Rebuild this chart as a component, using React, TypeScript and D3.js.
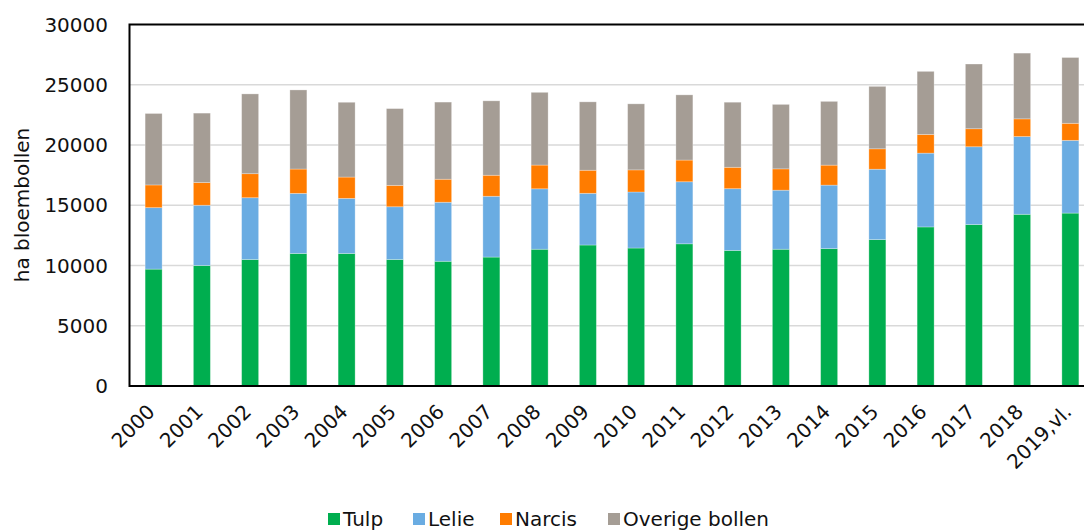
import React, { useEffect, useRef } from 'react';
import * as d3 from 'd3';

const years = ['2000', '2001', '2002', '2003', '2004', '2005', '2006', '2007', '2008', '2009',
  '2010', '2011', '2012', '2013', '2014', '2015', '2016', '2017', '2018', '2019,vl.'];

const tulp = [9700, 10000, 10500, 11000, 11000, 10500, 10350, 10700, 11350, 11700,
  11450, 11800, 11250, 11350, 11400, 12150, 13200, 13400, 14250, 14350];
const lelie = [5100, 5000, 5125, 4985, 4570, 4375, 4900, 5045, 5015, 4290,
  4650, 5150, 5125, 4900, 5270, 5840, 6125, 6455, 6450, 6035];
const narcis = [1885, 1885, 1995, 2020, 1770, 1775, 1910, 1745, 1970, 1915,
  1835, 1800, 1775, 1770, 1660, 1695, 1550, 1495, 1470, 1415];
const overige = [5930, 5760, 6620, 6565, 6205, 6370, 6400, 6175, 6035, 5675,
  5480, 5410, 5400, 5350, 5290, 5180, 5235, 5370, 5455, 5460];

const seriesNames = ['Tulp', 'Lelie', 'Narcis', 'Overige bollen'];
const colors = ['#00AE4F', '#6AACE2', '#FF7C00', '#A59D95'];
const yTicks = [0, 5000, 10000, 15000, 20000, 25000, 30000];

const BulbChart = () => {
  const svgRef = useRef<SVGSVGElement>(null);

  useEffect(() => {
    const svg = d3.select(svgRef.current);
    svg.selectAll('*').remove();
    const width = 1084;
    const height = 531;
    const left = 129.5;
    const right = 1094.5;
    const top = 24.5;
    const bottom = 386;
    const font = '"DejaVu Sans", Verdana, sans-serif';

    const table = years.map((y, i) => ({
      year: y,
      Tulp: tulp[i],
      Lelie: lelie[i],
      Narcis: narcis[i],
      'Overige bollen': overige[i],
    }));

    const stacked = d3.stack<any>().keys(seriesNames)(table);

    const x = d3.scaleBand().domain(years).range([left, right])
      .paddingInner(0.648).paddingOuter(0.324);
    const y = d3.scaleLinear().domain([0, 30000]).range([bottom, top]);

    svg.attr('width', width).attr('height', height);

    // gridlines
    svg.append('g')
      .selectAll('line')
      .data(yTicks.slice(1, -1))
      .join('line')
      .attr('x1', left).attr('x2', right)
      .attr('y1', (d) => y(d)).attr('y2', (d) => y(d))
      .attr('stroke', '#D9D9D9').attr('stroke-width', 1.5);

    // bars
    svg.append('g')
      .selectAll('g')
      .data(stacked)
      .join('g')
      .attr('fill', (_, i) => colors[i])
      .selectAll('rect')
      .data((d) => d)
      .join('rect')
      .attr('x', (d) => x(d.data.year)!)
      .attr('y', (d) => y(d[1]))
      .attr('width', x.bandwidth())
      .attr('height', (d) => y(d[0]) - y(d[1]))
      .attr('stroke', 'rgba(255,255,255,0.35)')
      .attr('stroke-width', 0.8);

    // frame
    svg.append('rect')
      .attr('x', left).attr('y', top)
      .attr('width', right - left).attr('height', bottom - top)
      .attr('fill', 'none').attr('stroke', '#000').attr('stroke-width', 2);

    // y axis labels
    svg.append('g')
      .selectAll('text')
      .data(yTicks)
      .join('text')
      .attr('x', 108)
      .attr('y', (d) => y(d))
      .attr('dy', '0.36em')
      .attr('text-anchor', 'end')
      .attr('font-family', font)
      .attr('font-size', 20)
      .attr('fill', '#111')
      .text((d) => d);

    // x axis labels
    svg.append('g')
      .selectAll('text')
      .data(years)
      .join('text')
      .attr('transform', (d) => `translate(${x(d)! + x.bandwidth() / 2 - 2.5},${bottom + 22}) rotate(-45)`)
      .attr('text-anchor', 'end')
      .attr('dy', '0.35em')
      .attr('font-family', font)
      .attr('font-size', 20)
      .attr('fill', '#111')
      .text((d) => d);

    // y title
    svg.append('text')
      .attr('transform', `translate(29,205) rotate(-90)`)
      .attr('text-anchor', 'middle')
      .attr('font-family', font)
      .attr('font-size', 20)
      .attr('fill', '#111')
      .text('ha bloembollen');

    // legend
    const legendX = [328, 413, 500, 608];
    const legend = svg.append('g')
      .selectAll('g')
      .data(seriesNames)
      .join('g')
      .attr('transform', (_, i) => `translate(${legendX[i]},519)`);
    legend.append('rect')
      .attr('x', 0).attr('y', -6)
      .attr('width', 12).attr('height', 12)
      .attr('fill', (_, i) => colors[i]);
    legend.append('text')
      .attr('x', 15).attr('y', 0).attr('dy', '0.36em')
      .attr('font-family', font)
      .attr('font-size', 20)
      .attr('fill', '#111')
      .text((d) => d);
  }, []);

  return <svg ref={svgRef} style={{ position: 'absolute', left: 0, top: 0 }} />;
};

export default function App() {
  return <BulbChart />;
}
